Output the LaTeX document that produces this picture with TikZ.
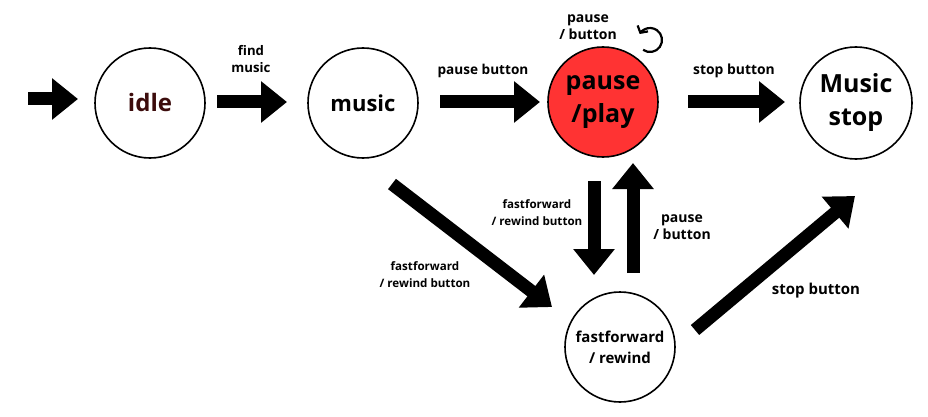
\documentclass[tikz,border=0pt]{standalone}
\usepackage{fontspec}
\setmainfont{Open Sans}
\usetikzlibrary{arrows.meta,calc}
\definecolor{pred}{RGB}{255,51,51}
\definecolor{idlec}{RGB}{60,12,12}
\newcommand{\lsz}[1]{\fontsize{#1}{17}\selectfont}
\begin{document}
\begin{tikzpicture}[x=1pt,y=-1pt,
  state/.style={circle,draw=black,line width=1.6pt,inner sep=0pt,align=center,font=\bfseries},
  big/.style={line width=13pt,-{Triangle[length=26pt,width=40pt]}},
  lbl/.style={font=\bfseries\lsz{13.2},align=center,inner sep=0pt}]
\useasboundingbox[fill=white] (0,0) rectangle (928,417);
\node[state,minimum size=110pt,font=\bfseries\fontsize{24}{28}\selectfont,text=idlec] (idle) at (150,103) {idle};
\node[state,minimum size=110pt,font=\bfseries\fontsize{22}{28}\selectfont] (music) at (363,103) {music};
\node[state,minimum size=110pt,fill=pred,font=\bfseries\fontsize{25}{33}\selectfont] (pause) at (603,102) {pause\\/play};
\node[state,minimum size=112pt,font=\bfseries\fontsize{25}{33}\selectfont] (stop) at (856,103) {Music\\stop};
\node[state,minimum size=110pt,font=\bfseries\fontsize{15}{21}\selectfont] (ff) at (620,347) {fastforward\\/ rewind};
\coordinate (start) at (28,99);
\draw[big] (start) -- ($(idle)+(-72,-4)$);
\draw[big] ($(idle)+(67,-1)$) -- ($(music)+(-76,-1)$);
\draw[big] ($(music)+(77,-1)$) -- ($(pause)+(-63,0)$);
\draw[big] ($(pause)+(85,0)$) -- ($(stop)+(-71,-1)$);
\draw[big] ($(music)+(29,81)$) -- ($(ff)+(-68,-40)$);
\draw[big] ($(pause)+(-9,79)$) -- ($(ff)+(-26,-72)$);
\draw[big] ($(ff)+(13,-74)$) -- ($(pause)+(30,61)$);
\draw[big] ($(ff)+(75,-17)$) -- ($(stop)+(-1,93)$);
\coordinate (loopc) at (650,40);
\draw[line width=2.2pt,-{Straight Barb[length=5pt,width=12pt]}] ([shift={(125:12)}]loopc) arc (125:-150:12);
\node[lbl] (l1) at (251,59) {find\\music};
\node[lbl,font=\bfseries\lsz{13.6}] (l2) at (483,71) {pause button};
\node[lbl,font=\bfseries\lsz{13.9}] (l3) at (734,71) {stop button};
\node[lbl,font=\bfseries\lsz{14}] (l4) at (588,27) {pause\\/ button};
\node[lbl,font=\bfseries\lsz{11.6}] (l5) at (537,213) {fastforward\\/ rewind button};
\node[lbl,font=\bfseries\lsz{14}] (l6) at (682,227) {pause\\/ button};
\node[lbl,font=\bfseries\lsz{11.6}] (l7) at (425,275) {fastforward\\/ rewind button};
\node[lbl,font=\bfseries\lsz{15}] (l8) at (816,291) {stop button};
\end{tikzpicture}
\end{document}
